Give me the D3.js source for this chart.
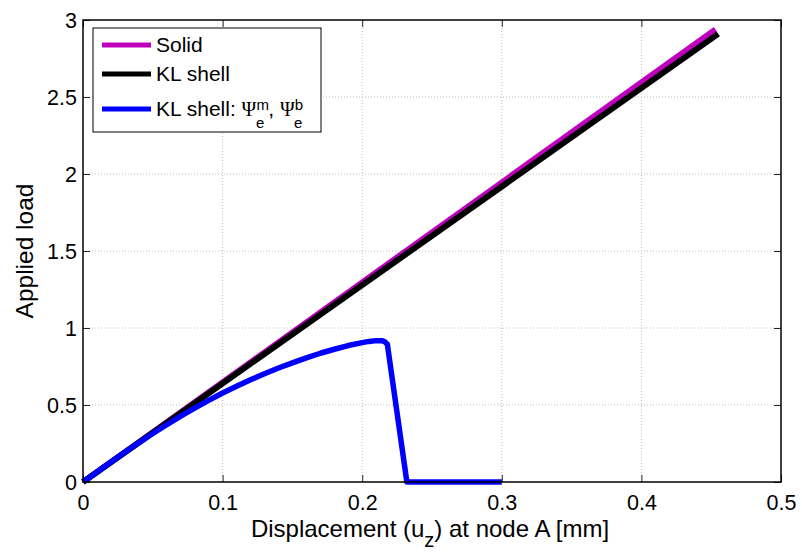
<!DOCTYPE html>
<html>
<head>
<meta charset="utf-8">
<script src="https://cdn.jsdelivr.net/npm/d3@7"></script>
<style>
  html, body { margin: 0; padding: 0; background: #fff; }
  svg { display: block; font-family: "Liberation Sans", Arial, Helvetica, sans-serif; }
</style>
</head>
<body>
<svg id="chart" width="802" height="556"></svg>
<script>
// Load–displacement curves
const solidX = [0, 0.453];
const solidY = [0, 2.94];

const shellX = [0, 0.455];
const shellY = [0, 2.91];

const shellPsiX = [0, 0.01, 0.02, 0.03, 0.04, 0.05, 0.06, 0.07, 0.08, 0.09, 0.10, 0.11, 0.12, 0.13, 0.14, 0.15, 0.16, 0.17, 0.18, 0.19, 0.20, 0.205, 0.21, 0.214, 0.216, 0.218, 0.232, 0.30];
const shellPsiY = [0, 0.065, 0.13, 0.193, 0.255, 0.315, 0.372, 0.428, 0.48, 0.53, 0.578, 0.622, 0.664, 0.703, 0.74, 0.774, 0.806, 0.836, 0.862, 0.886, 0.905, 0.913, 0.918, 0.918, 0.912, 0.895, 0, 0];

const xTicks = [0, 0.1, 0.2, 0.3, 0.4, 0.5];
const yTicks = [0, 0.5, 1, 1.5, 2, 2.5, 3];

const seriesNames = ["Solid", "KL shell", "KL shell: "];
const seriesColors = ["#bf00bf", "#000000", "#0000ff"];

const svg = d3.select("#chart");
const margin = { left: 83, right: 21, top: 20, bottom: 74 };
const W = 802, H = 556;
const x = d3.scaleLinear().domain([0, 0.5]).range([margin.left, W - margin.right]);
const y = d3.scaleLinear().domain([0, 3]).range([H - margin.bottom, margin.top]);

const x0 = x.range()[0], x1 = x.range()[1];
const y0 = y.range()[0], y1 = y.range()[1];

// dotted grid
const grid = svg.append("g");
grid.selectAll(".gx").data(xTicks.slice(1, -1)).enter().append("line")
  .attr("x1", d => x(d)).attr("x2", d => x(d)).attr("y1", y0).attr("y2", y1)
  .attr("stroke", "#bdbdbd").attr("stroke-width", 1).attr("stroke-dasharray", "1,2");
grid.selectAll(".gy").data(yTicks.slice(1, -1)).enter().append("line")
  .attr("x1", x0).attr("x2", x1).attr("y1", d => y(d)).attr("y2", d => y(d))
  .attr("stroke", "#bdbdbd").attr("stroke-width", 1).attr("stroke-dasharray", "1,2");

// curves
const line = d3.line().x(d => x(d[0])).y(d => y(d[1]));
const zip = (a, b) => a.map((v, i) => [v, b[i]]);
const curves = [
  { pts: zip(solidX, solidY), color: seriesColors[0], w: 5.5 },
  { pts: zip(shellX, shellY), color: seriesColors[1], w: 6 },
  { pts: zip(shellPsiX, shellPsiY), color: seriesColors[2], w: 5.5 }
];
svg.append("g").selectAll("path").data(curves).enter().append("path")
  .attr("d", d => line(d.pts))
  .attr("fill", "none")
  .attr("stroke", d => d.color)
  .attr("stroke-width", d => d.w)
  .attr("stroke-linejoin", "round");

// axes with inward ticks, mirrored on all sides
const tickSize = 7;
const fmt = d => String(d);
const axB = svg.append("g").attr("transform", `translate(0,${y0})`)
  .call(d3.axisBottom(x).tickValues(xTicks).tickSizeInner(-tickSize).tickSizeOuter(0).tickPadding(13).tickFormat(fmt));
const axT = svg.append("g").attr("transform", `translate(0,${y1})`)
  .call(d3.axisTop(x).tickValues(xTicks).tickSizeInner(-tickSize).tickSizeOuter(0).tickFormat(""));
const axL = svg.append("g").attr("transform", `translate(${x0},0)`)
  .call(d3.axisLeft(y).tickValues(yTicks).tickSizeInner(-tickSize).tickSizeOuter(0).tickPadding(6).tickFormat(fmt));
const axR = svg.append("g").attr("transform", `translate(${x1},0)`)
  .call(d3.axisRight(y).tickValues(yTicks).tickSizeInner(-tickSize).tickSizeOuter(0).tickFormat(""));
[axB, axT, axL, axR].forEach(a => {
  a.select(".domain").remove();
  a.selectAll(".tick line").attr("stroke", "#262626").attr("stroke-width", 1);
  a.selectAll("text").attr("fill", "#000").style("font-size", "21.5px").style("font-family", "'Liberation Sans', Arial, sans-serif");
});
axB.selectAll("text").attr("dy", "0.71em");
axL.selectAll("text").attr("dy", "0.36em");

// box
svg.append("rect").attr("x", x0).attr("y", y1).attr("width", x1 - x0).attr("height", y0 - y1)
  .attr("fill", "none").attr("stroke", "#000").attr("stroke-width", 1.5);

// axis titles
const xt = svg.append("text").attr("x", (x0 + x1) / 2 - 2).attr("y", 537).attr("text-anchor", "middle")
  .style("font-size", "24px").attr("fill", "#000");
xt.append("tspan").text("Displacement (u");
xt.append("tspan").attr("dy", 10).style("font-size", "20px").text("z");
xt.append("tspan").attr("dy", -10).text(") at node A [mm]");

svg.append("text").attr("transform", `translate(33,${(y0 + y1) / 2}) rotate(-90)`)
  .attr("text-anchor", "middle").style("font-size", "24.5px").attr("fill", "#000").text("Applied load");

// legend
const lg = svg.append("g");
lg.append("rect").attr("x", 93).attr("y", 28).attr("width", 228).attr("height", 104)
  .attr("fill", "#fff").attr("stroke", "#000").attr("stroke-width", 1);
const rowY = [45, 74, 109];
seriesNames.forEach((name, i) => {
  lg.append("line").attr("x1", 102).attr("x2", 151).attr("y1", rowY[i]).attr("y2", rowY[i])
    .attr("stroke", seriesColors[i]).attr("stroke-width", 5);
  const t = lg.append("text").attr("x", 156).attr("y", rowY[i] + 7)
    .style("font-size", "21px").attr("fill", "#000").text(name);
  if (i === 2) {
    t.append("tspan").style("font-family", "'Liberation Serif', serif").style("font-size", "20px").text("Ψ");
    t.append("tspan").attr("dy", -6).style("font-size", "15px").text("m");
    t.append("tspan").attr("dx", -13).attr("dy", 18).style("font-size", "15px").text("e");
    t.append("tspan").attr("dx", 4).attr("dy", -12).text(", ");
    t.append("tspan").style("font-family", "'Liberation Serif', serif").style("font-size", "20px").text("Ψ");
    t.append("tspan").attr("dy", -6).style("font-size", "15px").text("b");
    t.append("tspan").attr("dx", -9).attr("dy", 18).style("font-size", "15px").text("e");
  }
});
</script>
</body>
</html>
